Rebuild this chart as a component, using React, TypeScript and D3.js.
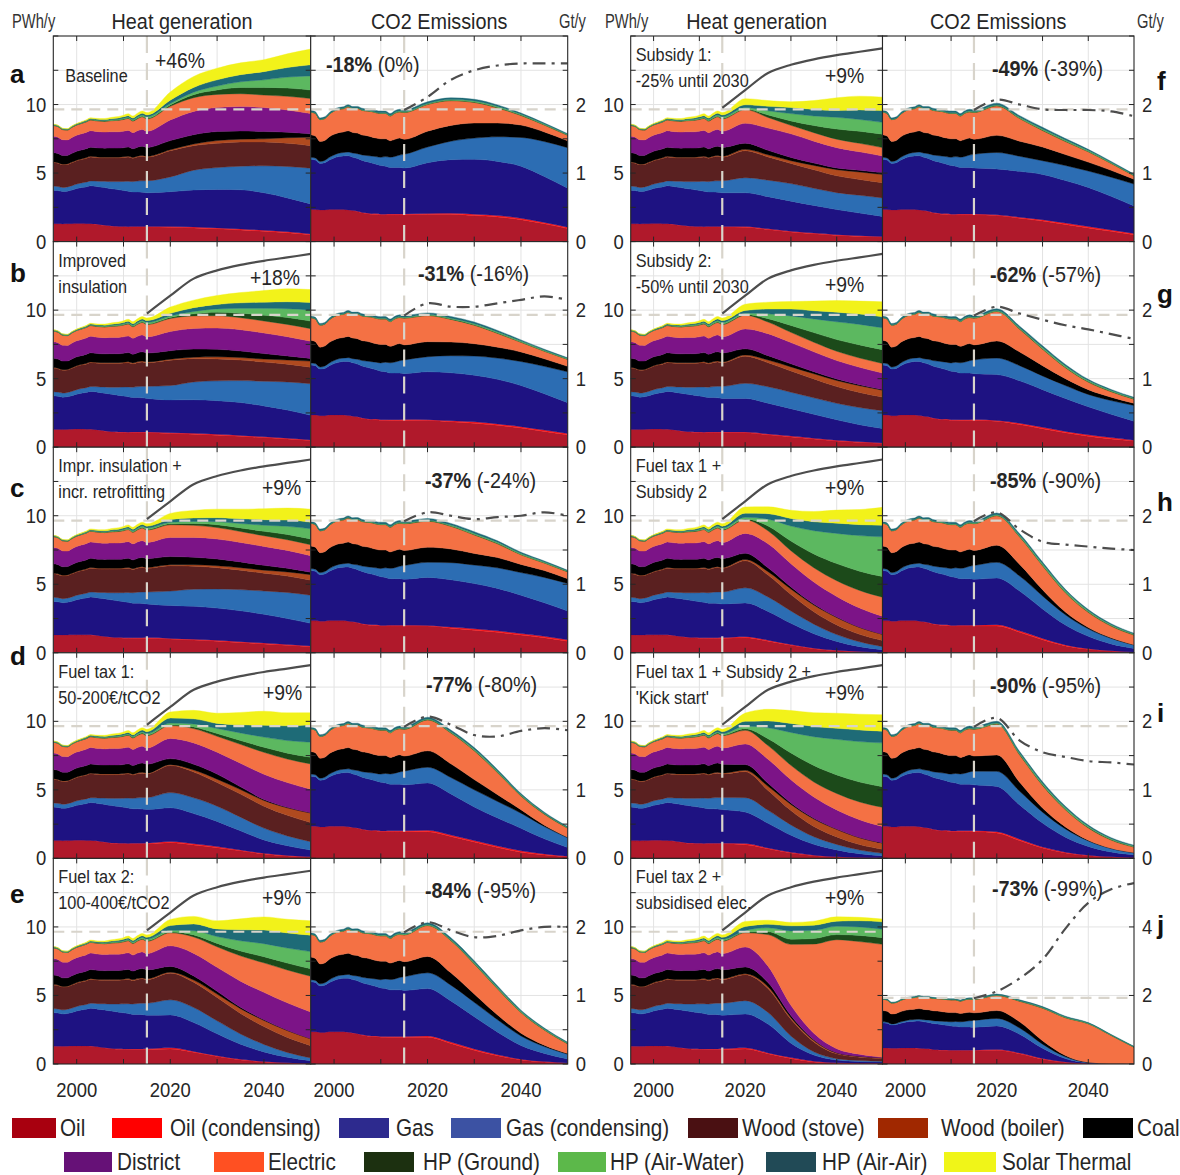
import React from "react";
import * as d3 from "d3";

// ---------------- DATA ----------------
const HIST_YEARS = d3.range(1995, 2016);
const PROJ_YEARS = [2020, 2025, 2030, 2035, 2040, 2045, 2050];
const LINE_YEARS = [2015, 2020, 2025, 2030, 2035, 2040, 2045, 2050];

const TECH_KEYS = ["oil", "oilC", "gas", "gasC", "woodS", "woodB", "coal", "district", "elec", "hpG", "hpAW", "hpAA", "solar"];
const TECH_LABELS = ["Oil", "Oil (condensing)", "Gas", "Gas (condensing)", "Wood (stove)", "Wood (boiler)", "Coal", "District", "Electric", "HP (Ground)", "HP (Air-Water)", "HP (Air-Air)", "Solar Thermal"];
const CO2_KEYS = ["oil", "oilC", "gas", "gasC", "coal", "elec", "hpG", "hpAW", "hpAA"];

const SCENARIO_IDS = ["a", "b", "c", "d", "e", "f", "g", "h", "i", "j"];
const SCENARIO_TEXT = [
  ["Baseline"],
  ["Improved", "insulation"],
  ["Impr. insulation +", "incr. retrofitting"],
  ["Fuel tax 1:", "50-200€/tCO2"],
  ["Fuel tax 2:", "100-400€/tCO2"],
  ["Subsidy 1:", "-25% until 2030"],
  ["Subsidy 2:", "-50% until 2030"],
  ["Fuel tax 1 +", "Subsidy 2"],
  ["Fuel tax 1 + Subsidy 2 +", "'Kick start'"],
  ["Fuel tax 2 +", "subsidised elec."],
];
const HEAT_CHANGE = ["+46%", "+18%", "+9%", "+9%", "+9%", "+9%", "+9%", "+9%", "+9%", "+9%"];
const CO2_CHANGE = ["-18%", "-31%", "-37%", "-77%", "-84%", "-49%", "-62%", "-85%", "-90%", "-73%"];
const CO2_CHANGE_REF = ["(0%)", "(-16%)", "(-24%)", "(-80%)", "(-95%)", "(-39%)", "(-57%)", "(-90%)", "(-95%)", "(-99%)"];

// heat generation history 1995-2015 (PWh/y)
const H_OIL = [1.30, 1.30, 1.29, 1.30, 1.31, 1.32, 1.32, 1.31, 1.30, 1.27, 1.22, 1.17, 1.13, 1.10, 1.08, 1.07, 1.06, 1.06, 1.06, 1.06, 1.06];
const H_OILC = [0, 0, 0, 0, 0, 0, 0, 0, 0.01, 0.01, 0.01, 0.02, 0.02, 0.02, 0.03, 0.03, 0.03, 0.04, 0.04, 0.04, 0.05];
const H_GAS = [2.45, 2.42, 2.36, 2.38, 2.45, 2.55, 2.62, 2.68, 2.76, 2.76, 2.75, 2.75, 2.73, 2.71, 2.67, 2.63, 2.59, 2.52, 2.52, 2.50, 2.45];
const H_GASC = [0.30, 0.30, 0.30, 0.31, 0.32, 0.33, 0.34, 0.35, 0.36, 0.38, 0.42, 0.46, 0.50, 0.55, 0.60, 0.66, 0.72, 0.76, 0.80, 0.84, 0.88];
const H_WOODS = [1.72, 1.70, 1.66, 1.64, 1.68, 1.70, 1.71, 1.72, 1.74, 1.72, 1.71, 1.71, 1.73, 1.73, 1.73, 1.75, 1.77, 1.70, 1.75, 1.78, 1.72];
const H_WOODB = [0.04, 0.04, 0.04, 0.04, 0.04, 0.04, 0.04, 0.05, 0.05, 0.05, 0.05, 0.05, 0.05, 0.05, 0.05, 0.05, 0.06, 0.06, 0.06, 0.06, 0.06];
const H_COAL = [0.68, 0.67, 0.63, 0.62, 0.64, 0.65, 0.65, 0.66, 0.67, 0.66, 0.66, 0.65, 0.66, 0.66, 0.66, 0.66, 0.67, 0.64, 0.66, 0.68, 0.65];
const H_DISTRICT = [1.20, 1.19, 1.15, 1.13, 1.16, 1.17, 1.18, 1.19, 1.20, 1.19, 1.19, 1.18, 1.19, 1.19, 1.19, 1.20, 1.21, 1.17, 1.20, 1.22, 1.18];
const H_ELEC = [0.78, 0.77, 0.74, 0.72, 0.74, 0.75, 0.76, 0.77, 0.78, 0.78, 0.78, 0.78, 0.80, 0.82, 0.84, 0.86, 0.88, 0.84, 0.88, 0.92, 0.90];
const H_HPG = [0.01, 0.01, 0.01, 0.01, 0.01, 0.01, 0.01, 0.01, 0.02, 0.02, 0.02, 0.02, 0.02, 0.03, 0.03, 0.03, 0.03, 0.04, 0.04, 0.04, 0.05];
const H_HPAW = [0.02, 0.02, 0.02, 0.02, 0.02, 0.02, 0.02, 0.03, 0.03, 0.03, 0.03, 0.04, 0.04, 0.05, 0.05, 0.06, 0.06, 0.07, 0.08, 0.09, 0.10];
const H_HPAA = [0.05, 0.05, 0.05, 0.05, 0.05, 0.05, 0.06, 0.06, 0.06, 0.07, 0.07, 0.07, 0.08, 0.08, 0.09, 0.10, 0.11, 0.11, 0.12, 0.13, 0.14];
const H_SOLAR = [0.02, 0.02, 0.02, 0.02, 0.03, 0.03, 0.04, 0.05, 0.06, 0.06, 0.07, 0.08, 0.09, 0.10, 0.11, 0.12, 0.14, 0.15, 0.16, 0.17, 0.18];

// heat generation projections 2020..2050, one row per scenario a..j
const P_OIL = [
  [1.05, 1.00, 0.93, 0.85, 0.76, 0.65, 0.50], [1.0, 0.95, 0.88, 0.8, 0.7, 0.6, 0.48], [1.0, 0.93, 0.85, 0.75, 0.65, 0.55, 0.45],
  [1.15, 0.98, 0.78, 0.55, 0.33, 0.18, 0.08], [1.1, 0.85, 0.55, 0.3, 0.15, 0.07, 0.03], [1.05, 0.88, 0.7, 0.57, 0.45, 0.38, 0.33],
  [1.05, 0.9, 0.75, 0.6, 0.45, 0.35, 0.28], [1.1, 0.85, 0.55, 0.3, 0.15, 0.08, 0.04], [1.0, 0.7, 0.4, 0.2, 0.1, 0.05, 0.03],
  [1.1, 0.75, 0.4, 0.15, 0.06, 0.04, 0.03]];
const P_OILC = [
  [0.05, 0.06, 0.07, 0.07, 0.07, 0.07, 0.06], [0.05, 0.06, 0.06, 0.06, 0.06, 0.06, 0.05], [0.05, 0.06, 0.06, 0.06, 0.06, 0.05, 0.05],
  [0.08, 0.09, 0.08, 0.06, 0.04, 0.04, 0.04], [0.08, 0.07, 0.05, 0.04, 0.03, 0.02, 0.01], [0.05, 0.05, 0.05, 0.05, 0.05, 0.05, 0.04],
  [0.05, 0.06, 0.06, 0.05, 0.05, 0.04, 0.03], [0.08, 0.07, 0.05, 0.04, 0.03, 0.02, 0.01], [0.08, 0.06, 0.04, 0.03, 0.02, 0.01, 0.01],
  [0.08, 0.06, 0.07, 0.05, 0.03, 0.02, 0.02]];
const P_GAS = [
  [2.54, 2.70, 2.81, 2.86, 2.73, 2.47, 2.19], [2.4, 2.45, 2.45, 2.4, 2.25, 2.05, 1.8], [2.4, 2.4, 2.35, 2.25, 2.1, 1.9, 1.65],
  [2.46, 2.2, 1.84, 1.4, 0.98, 0.7, 0.49], [2.4, 2.1, 1.6, 1.1, 0.7, 0.4, 0.2], [2.46, 2.35, 2.2, 2.02, 1.84, 1.65, 1.47],
  [2.46, 2.25, 2.0, 1.75, 1.5, 1.25, 1.05], [2.46, 2.1, 1.55, 1.05, 0.65, 0.35, 0.18], [2.3, 1.8, 1.25, 0.8, 0.5, 0.28, 0.15],
  [2.46, 2.1, 1.05, 0.45, 0.2, 0.12, 0.1]];
const P_GASC = [
  [1.08, 1.45, 1.59, 1.72, 1.97, 2.29, 2.61], [1.05, 1.3, 1.45, 1.6, 1.8, 2.05, 2.3], [1.05, 1.25, 1.4, 1.55, 1.7, 1.9, 2.05],
  [1.11, 1.15, 1.11, 1.0, 0.86, 0.72, 0.61], [1.1, 1.1, 0.95, 0.75, 0.55, 0.35, 0.2], [1.1, 1.2, 1.28, 1.25, 1.23, 1.3, 1.35],
  [1.1, 1.2, 1.2, 1.2, 1.2, 1.25, 1.3], [1.1, 1.05, 0.9, 0.7, 0.5, 0.35, 0.22], [1.05, 0.95, 0.75, 0.55, 0.4, 0.27, 0.18],
  [0.98, 0.85, 0.52, 0.24, 0.1, 0.07, 0.05]];
const P_WOODS = [
  [1.91, 1.79, 1.77, 1.77, 1.74, 1.70, 1.64], [1.85, 1.7, 1.6, 1.5, 1.4, 1.3, 1.2], [1.85, 1.68, 1.55, 1.42, 1.3, 1.2, 1.1],
  [1.97, 1.88, 1.72, 1.68, 1.6, 1.5, 1.4], [1.95, 1.85, 1.7, 1.5, 1.3, 1.1, 0.9], [1.97, 1.7, 1.47, 1.35, 1.23, 1.15, 1.1],
  [1.97, 1.75, 1.55, 1.38, 1.22, 1.1, 1.0], [1.97, 1.6, 1.2, 0.9, 0.7, 0.55, 0.45], [1.9, 1.45, 1.05, 0.75, 0.55, 0.4, 0.3],
  [1.9, 1.75, 1.22, 0.72, 0.35, 0.25, 0.2]];
const P_WOODB = [
  [0.07, 0.12, 0.20, 0.20, 0.23, 0.40, 0.62], [0.07, 0.1, 0.15, 0.18, 0.22, 0.3, 0.45], [0.07, 0.1, 0.14, 0.18, 0.22, 0.3, 0.4],
  [0.07, 0.15, 0.25, 0.33, 0.42, 0.55, 0.69], [0.07, 0.15, 0.25, 0.35, 0.45, 0.5, 0.5], [0.1, 0.15, 0.2, 0.32, 0.45, 0.55, 0.61],
  [0.1, 0.2, 0.3, 0.38, 0.45, 0.5, 0.5], [0.1, 0.25, 0.4, 0.5, 0.55, 0.5, 0.45], [0.1, 0.3, 0.45, 0.55, 0.55, 0.5, 0.45],
  [0.06, 0.13, 0.12, 0.1, 0.06, 0.05, 0.05]];
const P_COAL = [
  [0.67, 0.68, 0.66, 0.60, 0.53, 0.40, 0.24], [0.62, 0.6, 0.55, 0.48, 0.4, 0.3, 0.2], [0.6, 0.55, 0.5, 0.42, 0.35, 0.27, 0.18],
  [0.44, 0.42, 0.37, 0.2, 0.07, 0.04, 0.02], [0.42, 0.3, 0.2, 0.1, 0.05, 0.02, 0.01], [0.45, 0.33, 0.24, 0.17, 0.12, 0.12, 0.12],
  [0.45, 0.32, 0.22, 0.15, 0.1, 0.07, 0.05], [0.45, 0.28, 0.15, 0.07, 0.03, 0.02, 0.01], [0.42, 0.22, 0.1, 0.05, 0.02, 0.01, 0.01],
  [0.5, 0.3, 0.15, 0.06, 0.02, 0.01, 0.0]];
const P_DISTRICT = [
  [1.50, 1.70, 1.75, 1.78, 1.75, 1.62, 1.48], [1.4, 1.5, 1.55, 1.55, 1.5, 1.4, 1.25], [1.4, 1.45, 1.45, 1.42, 1.38, 1.3, 1.2],
  [1.47, 1.55, 1.6, 1.72, 1.84, 1.8, 1.72], [1.5, 1.65, 1.75, 1.9, 2.0, 2.0, 1.95], [1.45, 1.62, 1.72, 1.6, 1.48, 1.35, 1.23],
  [1.45, 1.6, 1.55, 1.45, 1.35, 1.27, 1.2], [1.45, 1.75, 1.7, 1.6, 1.5, 1.4, 1.3], [1.5, 1.75, 1.7, 1.55, 1.4, 1.3, 1.2],
  [1.45, 1.2, 0.75, 0.48, 0.3, 0.15, 0.05]];
const P_ELEC = [
  [1.00, 1.00, 0.96, 0.94, 0.91, 1.00, 1.10], [0.95, 0.92, 0.9, 0.88, 0.88, 0.9, 0.92], [0.92, 0.88, 0.84, 0.8, 0.78, 0.78, 0.8],
  [0.94, 1.05, 1.16, 1.38, 1.6, 1.72, 1.84], [0.95, 1.2, 1.5, 1.85, 2.15, 2.4, 2.6], [1.0, 0.78, 0.62, 0.62, 0.62, 0.62, 0.61],
  [1.0, 0.85, 0.75, 0.7, 0.68, 0.68, 0.7], [1.0, 0.95, 0.95, 1.05, 1.15, 1.28, 1.4], [1.0, 1.0, 1.05, 1.1, 1.2, 1.3, 1.4],
  [1.04, 2.3, 4.45, 6.5, 7.95, 8.22, 8.23]];
const P_HPG = [
  [0.10, 0.22, 0.32, 0.45, 0.56, 0.60, 0.62], [0.08, 0.15, 0.25, 0.33, 0.42, 0.5, 0.55], [0.08, 0.13, 0.2, 0.26, 0.32, 0.38, 0.42],
  [0.06, 0.12, 0.2, 0.28, 0.37, 0.43, 0.49], [0.06, 0.15, 0.25, 0.35, 0.45, 0.5, 0.55], [0.05, 0.18, 0.32, 0.52, 0.74, 0.88, 0.98],
  [0.05, 0.25, 0.5, 0.7, 0.85, 0.95, 1.0], [0.06, 0.35, 0.7, 1.0, 1.25, 1.4, 1.5], [0.1, 0.5, 0.9, 1.2, 1.35, 1.45, 1.5],
  [0.06, 0.2, 0.37, 0.4, 0.37, 0.45, 0.49]];
const P_HPAW = [
  [0.10, 0.18, 0.29, 0.42, 0.55, 0.80, 1.03], [0.1, 0.17, 0.25, 0.35, 0.5, 0.65, 0.8], [0.1, 0.15, 0.22, 0.32, 0.45, 0.6, 0.75],
  [0.12, 0.22, 0.37, 0.55, 0.74, 0.92, 1.1], [0.12, 0.3, 0.5, 0.75, 0.95, 1.1, 1.25], [0.1, 0.3, 0.54, 0.7, 0.86, 0.86, 0.86],
  [0.1, 0.35, 0.7, 1.0, 1.3, 1.5, 1.6], [0.12, 0.5, 1.1, 1.7, 2.2, 2.6, 2.9], [0.2, 0.8, 1.5, 2.1, 2.6, 2.95, 3.2],
  [0.1, 0.3, 0.61, 0.6, 0.61, 0.62, 0.61]];
const P_HPAA = [
  [0.25, 0.35, 0.45, 0.52, 0.60, 0.70, 0.81], [0.2, 0.28, 0.33, 0.4, 0.45, 0.5, 0.55], [0.2, 0.26, 0.3, 0.35, 0.4, 0.45, 0.48],
  [0.37, 0.37, 0.37, 0.6, 0.86, 1.07, 1.27], [0.35, 0.5, 0.55, 0.8, 1.0, 1.1, 1.2], [0.2, 0.33, 0.44, 0.47, 0.5, 0.7, 0.86],
  [0.2, 0.35, 0.5, 0.6, 0.7, 0.75, 0.8], [0.3, 0.4, 0.55, 0.65, 0.75, 0.8, 0.85], [0.35, 0.5, 0.65, 0.75, 0.8, 0.85, 0.85],
  [0.3, 0.25, 0.37, 0.37, 0.37, 0.45, 0.54]];
const P_SOLAR = [
  [0.60, 0.80, 0.85, 0.86, 0.87, 1.00, 1.15], [0.45, 0.55, 0.65, 0.75, 0.85, 0.95, 0.95], [0.45, 0.55, 0.62, 0.7, 0.8, 0.88, 0.95],
  [0.44, 0.62, 0.74, 0.9, 1.03, 0.95, 0.88], [0.45, 0.55, 0.6, 0.8, 0.95, 1.0, 1.05], [0.45, 0.42, 0.42, 0.65, 0.92, 1.0, 0.98],
  [0.45, 0.5, 0.55, 0.7, 0.85, 0.95, 1.1], [0.45, 0.5, 0.6, 0.75, 0.95, 1.1, 1.3], [0.6, 0.85, 0.95, 1.0, 1.1, 1.15, 1.2],
  [0.37, 0.3, 0.25, 0.3, 0.32, 0.25, 0.2]];

// CO2 emissions history 1995-2015 (Gt/y)
const CH_OIL = [0.47, 0.47, 0.46, 0.46, 0.47, 0.47, 0.47, 0.47, 0.46, 0.45, 0.44, 0.42, 0.41, 0.40, 0.40, 0.39, 0.39, 0.39, 0.39, 0.39, 0.39];
const CH_OILC = [0, 0, 0, 0, 0, 0, 0, 0, 0.002, 0.002, 0.003, 0.005, 0.006, 0.008, 0.01, 0.01, 0.01, 0.012, 0.012, 0.012, 0.013];
const CH_GAS = [0.73, 0.72, 0.68, 0.69, 0.72, 0.75, 0.77, 0.78, 0.79, 0.78, 0.77, 0.76, 0.75, 0.74, 0.72, 0.71, 0.70, 0.68, 0.68, 0.68, 0.67];
const CH_GASC = [0.03, 0.03, 0.03, 0.035, 0.04, 0.045, 0.05, 0.05, 0.055, 0.06, 0.07, 0.08, 0.09, 0.10, 0.11, 0.12, 0.14, 0.15, 0.16, 0.18, 0.20];
const CH_COAL = [0.33, 0.32, 0.29, 0.29, 0.30, 0.30, 0.30, 0.30, 0.31, 0.30, 0.30, 0.29, 0.29, 0.28, 0.27, 0.27, 0.26, 0.24, 0.25, 0.25, 0.22];
const CH_ELEC = [0.33, 0.33, 0.32, 0.32, 0.33, 0.34, 0.34, 0.34, 0.35, 0.35, 0.36, 0.36, 0.36, 0.37, 0.37, 0.37, 0.37, 0.36, 0.38, 0.38, 0.39];
const CH_HPG = [0.001, 0.001, 0.001, 0.001, 0.001, 0.001, 0.001, 0.001, 0.002, 0.002, 0.002, 0.002, 0.002, 0.002, 0.002, 0.003, 0.003, 0.003, 0.003, 0.003, 0.004];
const CH_HPAW = [0.004, 0.004, 0.004, 0.004, 0.004, 0.005, 0.005, 0.005, 0.005, 0.005, 0.006, 0.006, 0.006, 0.007, 0.007, 0.007, 0.008, 0.008, 0.009, 0.009, 0.01];
const CH_HPAA = [0.02, 0.02, 0.02, 0.02, 0.02, 0.02, 0.021, 0.021, 0.022, 0.022, 0.022, 0.023, 0.023, 0.024, 0.024, 0.025, 0.025, 0.026, 0.026, 0.027, 0.027];

// CO2 projections 2020..2050, rows a..j
const CP_OIL = [
  [0.40, 0.40, 0.38, 0.36, 0.32, 0.26, 0.19], [0.39, 0.37, 0.35, 0.32, 0.28, 0.23, 0.18], [0.39, 0.36, 0.33, 0.3, 0.26, 0.22, 0.17],
  [0.39, 0.32, 0.24, 0.16, 0.09, 0.05, 0.02], [0.39, 0.3, 0.2, 0.12, 0.06, 0.03, 0.01], [0.38, 0.34, 0.3, 0.25, 0.2, 0.15, 0.1],
  [0.38, 0.33, 0.27, 0.21, 0.16, 0.12, 0.09], [0.39, 0.3, 0.19, 0.1, 0.05, 0.025, 0.01], [0.37, 0.26, 0.15, 0.08, 0.04, 0.02, 0.01],
  [0.4, 0.3, 0.14, 0.05, 0.01, 0.003, 0.002]];
const CP_OILC = [
  [0.01, 0.015, 0.02, 0.02, 0.02, 0.02, 0.02], [0.01, 0.015, 0.02, 0.02, 0.02, 0.02, 0.02], [0.01, 0.015, 0.02, 0.02, 0.02, 0.02, 0.02],
  [0.02, 0.02, 0.02, 0.02, 0.02, 0.015, 0.01], [0.02, 0.02, 0.02, 0.015, 0.01, 0.005, 0.003], [0.01, 0.015, 0.02, 0.02, 0.02, 0.02, 0.02],
  [0.01, 0.02, 0.02, 0.02, 0.02, 0.02, 0.01], [0.02, 0.02, 0.02, 0.015, 0.01, 0.005, 0.003], [0.02, 0.02, 0.015, 0.01, 0.005, 0.003, 0.002],
  [0.02, 0.02, 0.02, 0.01, 0.002, 0.001, 0.001]];
const CP_GAS = [
  [0.74, 0.78, 0.80, 0.79, 0.76, 0.67, 0.57], [0.7, 0.7, 0.68, 0.65, 0.6, 0.53, 0.45], [0.7, 0.69, 0.66, 0.62, 0.56, 0.49, 0.42],
  [0.69, 0.6, 0.49, 0.41, 0.33, 0.22, 0.13], [0.69, 0.6, 0.47, 0.33, 0.2, 0.12, 0.06], [0.67, 0.67, 0.66, 0.62, 0.57, 0.49, 0.4],
  [0.67, 0.62, 0.55, 0.48, 0.41, 0.34, 0.28], [0.68, 0.58, 0.43, 0.29, 0.18, 0.1, 0.05], [0.66, 0.5, 0.35, 0.22, 0.13, 0.07, 0.04],
  [0.69, 0.55, 0.3, 0.1, 0.02, 0.005, 0.003]];
const CP_GASC = [
  [0.23, 0.27, 0.31, 0.36, 0.42, 0.51, 0.59], [0.22, 0.25, 0.28, 0.31, 0.35, 0.4, 0.45], [0.22, 0.25, 0.27, 0.3, 0.33, 0.37, 0.4],
  [0.23, 0.24, 0.25, 0.24, 0.22, 0.18, 0.14], [0.23, 0.23, 0.21, 0.18, 0.14, 0.1, 0.07], [0.24, 0.22, 0.2, 0.22, 0.24, 0.28, 0.32],
  [0.24, 0.22, 0.2, 0.19, 0.18, 0.2, 0.23], [0.23, 0.22, 0.19, 0.15, 0.11, 0.08, 0.05], [0.22, 0.2, 0.16, 0.12, 0.08, 0.05, 0.03],
  [0.22, 0.18, 0.12, 0.05, 0.01, 0.003, 0.002]];
const CP_COAL = [
  [0.23, 0.23, 0.22, 0.20, 0.18, 0.14, 0.10], [0.22, 0.2, 0.18, 0.16, 0.14, 0.11, 0.08], [0.22, 0.2, 0.17, 0.15, 0.12, 0.1, 0.07],
  [0.24, 0.2, 0.15, 0.1, 0.05, 0.02, 0.01], [0.24, 0.18, 0.12, 0.07, 0.04, 0.02, 0.01], [0.25, 0.22, 0.2, 0.16, 0.13, 0.1, 0.07],
  [0.25, 0.2, 0.15, 0.1, 0.07, 0.05, 0.03], [0.25, 0.17, 0.09, 0.04, 0.02, 0.01, 0.005], [0.24, 0.13, 0.06, 0.03, 0.01, 0.005, 0.003],
  [0.23, 0.18, 0.1, 0.04, 0.01, 0.0, 0.0]];
const CP_ELEC = [
  [0.39, 0.36, 0.30, 0.22, 0.14, 0.10, 0.08], [0.38, 0.33, 0.27, 0.2, 0.14, 0.11, 0.1], [0.38, 0.33, 0.27, 0.2, 0.14, 0.11, 0.1],
  [0.45, 0.45, 0.42, 0.32, 0.2, 0.16, 0.13], [0.45, 0.47, 0.44, 0.38, 0.3, 0.22, 0.14], [0.43, 0.33, 0.24, 0.19, 0.15, 0.1, 0.05],
  [0.43, 0.33, 0.24, 0.16, 0.11, 0.08, 0.06], [0.43, 0.4, 0.35, 0.28, 0.22, 0.17, 0.14], [0.45, 0.4, 0.33, 0.25, 0.18, 0.12, 0.08],
  [0.44, 0.6, 0.95, 1.1, 1.12, 0.82, 0.48]];
const CP_HPG = [
  [0.005, 0.006, 0.007, 0.007, 0.006, 0.005, 0.005], [0.005, 0.006, 0.007, 0.007, 0.006, 0.005, 0.005], [0.005, 0.006, 0.007, 0.007, 0.006, 0.005, 0.005],
  [0.005, 0.006, 0.007, 0.007, 0.006, 0.005, 0.005], [0.005, 0.006, 0.007, 0.007, 0.006, 0.005, 0.005], [0.005, 0.006, 0.007, 0.007, 0.006, 0.005, 0.005],
  [0.005, 0.007, 0.008, 0.008, 0.007, 0.006, 0.006], [0.005, 0.008, 0.009, 0.009, 0.008, 0.007, 0.006], [0.005, 0.008, 0.009, 0.009, 0.008, 0.007, 0.006],
  [0.005, 0.006, 0.007, 0.007, 0.006, 0.005, 0.005]];
const CP_HPAW = [
  [0.01, 0.012, 0.015, 0.015, 0.012, 0.01, 0.008], [0.01, 0.012, 0.015, 0.015, 0.012, 0.01, 0.008], [0.01, 0.012, 0.015, 0.015, 0.012, 0.01, 0.008],
  [0.01, 0.012, 0.015, 0.015, 0.012, 0.01, 0.008], [0.01, 0.012, 0.015, 0.015, 0.012, 0.01, 0.008], [0.01, 0.012, 0.015, 0.015, 0.012, 0.01, 0.008],
  [0.01, 0.014, 0.018, 0.018, 0.015, 0.012, 0.01], [0.01, 0.015, 0.02, 0.02, 0.016, 0.013, 0.01], [0.01, 0.016, 0.02, 0.02, 0.016, 0.013, 0.01],
  [0.01, 0.012, 0.015, 0.015, 0.012, 0.01, 0.008]];
const CP_HPAA = [
  [0.025, 0.025, 0.025, 0.022, 0.018, 0.015, 0.012], [0.025, 0.025, 0.025, 0.022, 0.018, 0.015, 0.012], [0.025, 0.025, 0.025, 0.022, 0.018, 0.015, 0.012],
  [0.025, 0.025, 0.025, 0.022, 0.018, 0.015, 0.012], [0.025, 0.025, 0.025, 0.022, 0.018, 0.015, 0.012], [0.025, 0.025, 0.025, 0.022, 0.018, 0.015, 0.012],
  [0.025, 0.025, 0.025, 0.022, 0.018, 0.015, 0.012], [0.025, 0.025, 0.025, 0.022, 0.018, 0.015, 0.012], [0.025, 0.025, 0.025, 0.022, 0.018, 0.015, 0.012],
  [0.025, 0.025, 0.025, 0.022, 0.018, 0.015, 0.015]];

// reference lines
const BASELINE_TOTAL = [9.75, 11.05, 12.3, 12.9, 13.3, 13.6, 13.85, 14.1]; // 2015..2050, PWh/y
const CO2_REFERENCE = [
  [1.92, 2.11, 2.36, 2.5, 2.57, 2.6, 2.6, 2.6], [1.92, 2.1, 2.05, 2.05, 2.1, 2.15, 2.2, 2.15],
  [1.92, 2.05, 2.0, 1.95, 1.98, 2.0, 2.05, 2.0], [1.92, 2.07, 1.95, 1.8, 1.78, 1.86, 1.9, 1.87],
  [1.92, 2.07, 1.95, 1.85, 1.87, 1.95, 2.0, 2.0], [1.92, 2.07, 2.0, 1.93, 1.92, 1.92, 1.9, 1.83],
  [1.92, 2.05, 1.95, 1.86, 1.78, 1.72, 1.65, 1.58], [1.92, 2.05, 1.8, 1.62, 1.58, 1.55, 1.52, 1.5],
  [1.92, 2.05, 1.72, 1.55, 1.48, 1.42, 1.4, 1.37], [1.92, 2.12, 2.5, 3.05, 3.95, 4.7, 5.1, 5.28]];
const HEAT_LEVEL_2015 = 9.65;
const CO2_LEVEL_2015 = 1.93;

// ---------------- TABLES BUILT FROM DATA ----------------
const HEAT_HIST: Record<string, number[]> = {
  oil: H_OIL, oilC: H_OILC, gas: H_GAS, gasC: H_GASC, woodS: H_WOODS, woodB: H_WOODB, coal: H_COAL,
  district: H_DISTRICT, elec: H_ELEC, hpG: H_HPG, hpAW: H_HPAW, hpAA: H_HPAA, solar: H_SOLAR,
};
const HEAT_PROJ: Record<string, number[][]> = {
  oil: P_OIL, oilC: P_OILC, gas: P_GAS, gasC: P_GASC, woodS: P_WOODS, woodB: P_WOODB, coal: P_COAL,
  district: P_DISTRICT, elec: P_ELEC, hpG: P_HPG, hpAW: P_HPAW, hpAA: P_HPAA, solar: P_SOLAR,
};
const CO2_HIST: Record<string, number[]> = {
  oil: CH_OIL, oilC: CH_OILC, gas: CH_GAS, gasC: CH_GASC, coal: CH_COAL, elec: CH_ELEC, hpG: CH_HPG, hpAW: CH_HPAW, hpAA: CH_HPAA,
};
const CO2_PROJ: Record<string, number[][]> = {
  oil: CP_OIL, oilC: CP_OILC, gas: CP_GAS, gasC: CP_GASC, coal: CP_COAL, elec: CP_ELEC, hpG: CP_HPG, hpAW: CP_HPAW, hpAA: CP_HPAA,
};

// ---------------- STYLE / LAYOUT ----------------
const COLORS: Record<string, string> = {
  oil: "#b0192b", oilC: "#ff1a1a", gas: "#1e1282", gasC: "#2c6db3", woodS: "#5a2020", woodB: "#b04a1f",
  coal: "#000000", district: "#7c1487", elec: "#f47144", hpG: "#1c4a1a", hpAW: "#5cb860", hpAA: "#1e6b77", solar: "#f2f21a",
};
const LEGEND_COLORS: Record<string, string> = {
  oil: "#a8000f", oilC: "#ff0000", gas: "#2d2a8e", gasC: "#3c52a3", woodS: "#4a1012", woodB: "#a02800",
  coal: "#000000", district: "#661177", elec: "#ff5022", hpG: "#1c3010", hpAW: "#5cb84a", hpAA: "#214a56", solar: "#f0f518",
};
// legend layout: [row, swatchX, swatchW, labelX]
const LEGEND_LAYOUT: [number, number, number, number][] = [
  [0, 12, 44, 60], [0, 112, 50, 170], [0, 339, 50, 396], [0, 451, 50, 506], [0, 688, 50, 742], [0, 878, 50, 941], [0, 1083, 50, 1137],
  [1, 64, 48, 117], [1, 214, 50, 268], [1, 364, 50, 423], [1, 558, 48, 610], [1, 766, 50, 822], [1, 944, 52, 1002],
];
const COL_GEOM = [
  { hx0: 53.3, hx1: 310.7, cx1: 567.7, pwhX: 12, gtX: 559 },
  { hx0: 630.7, hx1: 882.5, cx1: 1134, pwhX: 605, gtX: 1137 },
];
const ROW_TOP = 36;
const ROW_H = 205.6;
const LETTER_POS: [number, number][] = [
  [10, 83], [10, 282], [10, 497], [10, 665], [10, 903], [1157, 90], [1157, 303], [1157, 511], [1157, 722], [1157, 934],
];
const HEAT_PCT_POS: [number, number][] = [
  [155, 68], [250, 285], [262, 495], [263, 700], [262, 905], [825, 83], [825, 292], [825, 495], [825, 700], [825, 905],
];
const CO2_PCT_POS: [number, number][] = [
  [326, 72], [418, 281], [425, 488], [426, 692], [425, 898], [992, 76], [990, 282], [990, 488], [990, 693], [992, 896],
];

const FONT = "'Liberation Sans', Arial, sans-serif";
const INK = "#262626";

function T(props: { x: number; y: number; size: number; anchor?: string; weight?: string; fill?: string; sx?: number; children: any }) {
  const { x, y, size, anchor = "start", weight = "normal", fill = INK, sx = 0.88, children } = props;
  return (
    <text transform={`translate(${x},${y}) scale(${sx},1)`} fontSize={size} textAnchor={anchor as any} fontWeight={weight} fill={fill} fontFamily={FONT}>
      {children}
    </text>
  );
}

function buildRows(s: number, keys: string[], hist: Record<string, number[]>, proj: Record<string, number[][]>) {
  const years = HIST_YEARS.concat(PROJ_YEARS);
  return years.map((yr, i) => {
    const r: any = { year: yr };
    keys.forEach((k) => {
      r[k] = i < HIST_YEARS.length ? hist[k][i] : proj[k][s][i - HIST_YEARS.length];
    });
    return r;
  });
}

function Plot(props: {
  id: string; x0: number; x1: number; top: number; bottom: number; ymax: number; rows: any[]; keys: string[];
  gridStep: number; tickStep: number; level: number; overlay?: { values: number[]; dash: string };
}) {
  const { id, x0, x1, top, bottom, ymax, rows, keys, gridStep, tickStep, level, overlay } = props;
  const x = d3.scaleLinear().domain([1995, 2050]).range([x0, x1]);
  const y = d3.scaleLinear().domain([0, ymax]).range([bottom, top]);
  const series = d3.stack<any>().keys(keys)(rows);
  const area = d3.area<any>()
    .x((d) => x(d.data.year))
    .y0((d) => y(d[0]))
    .y1((d) => y(d[1]))
    .curve(d3.curveMonotoneX);
  const gridY = d3.range(gridStep, ymax - 1e-9, gridStep);
  const ticksY = d3.range(0, ymax + 1e-9, tickStep);
  const decades = [2000, 2010, 2020, 2030, 2040];
  const line = d3.line<number>()
    .x((_, i) => x(LINE_YEARS[i]))
    .y((v) => y(v))
    .curve(d3.curveCatmullRom);
  return (
    <g>
      <defs>
        <clipPath id={id}>
          <rect x={x0} y={top} width={x1 - x0} height={bottom - top} />
        </clipPath>
      </defs>
      <rect x={x0} y={top} width={x1 - x0} height={bottom - top} fill="#ffffff" />
      <g stroke="#e3e3e3" strokeWidth={1}>
        {gridY.map((g) => <line key={"gy" + g} x1={x0} x2={x1} y1={y(g)} y2={y(g)} />)}
        {decades.map((d) => <line key={"gx" + d} x1={x(d)} x2={x(d)} y1={top} y2={bottom} />)}
      </g>
      <g clipPath={`url(#${id})`}>
        {series.map((layer) => (
          <path key={layer.key} d={area(layer) || ""} fill={COLORS[layer.key]} stroke={COLORS[layer.key]} strokeWidth={0.4} />
        ))}
        <line x1={x0} x2={x1} y1={y(level)} y2={y(level)} stroke="#d8d4cb" strokeWidth={2.2} strokeDasharray="11 7" />
        <line x1={x(2015)} x2={x(2015)} y1={top} y2={bottom} stroke="#d8d4cb" strokeWidth={2.2} strokeDasharray="17 10" />
        {overlay && (
          <path d={line(overlay.values) || ""} fill="none" stroke="#4d4d4d" strokeWidth={2.2} strokeDasharray={overlay.dash} />
        )}
      </g>
      <rect x={x0} y={top} width={x1 - x0} height={bottom - top} fill="none" stroke={INK} strokeWidth={1.1} />
      <g stroke={INK} strokeWidth={1}>
        {ticksY.map((t) => (
          <g key={"t" + t}>
            <line x1={x0} x2={x0 + 5} y1={y(t)} y2={y(t)} />
            <line x1={x1} x2={x1 - 5} y1={y(t)} y2={y(t)} />
          </g>
        ))}
        {decades.map((d) => (
          <g key={"tx" + d}>
            <line x1={x(d)} x2={x(d)} y1={bottom} y2={bottom - 5} />
            <line x1={x(d)} x2={x(d)} y1={top} y2={top + 5} />
          </g>
        ))}
      </g>
    </g>
  );
}

export default function App() {
  const panels: any[] = [];
  for (let s = 0; s < 10; s++) {
    const col = s < 5 ? 0 : 1;
    const row = s % 5;
    const g = COL_GEOM[col];
    const top = ROW_TOP + row * ROW_H;
    const bottom = top + ROW_H;
    const heatRows = buildRows(s, TECH_KEYS, HEAT_HIST, HEAT_PROJ);
    const co2Rows = buildRows(s, CO2_KEYS, CO2_HIST, CO2_PROJ);
    const co2Max = s === 9 ? 6 : 3;
    const co2Step = s === 9 ? 2 : 0.5;
    const yHeat = d3.scaleLinear().domain([0, 15]).range([bottom, top]);
    const yCo2 = d3.scaleLinear().domain([0, co2Max]).range([bottom, top]);
    const xHeat = d3.scaleLinear().domain([1995, 2050]).range([g.hx0, g.hx1]);
    const xCo2 = d3.scaleLinear().domain([1995, 2050]).range([g.hx1, g.cx1]);
    const lines = SCENARIO_TEXT[s];
    panels.push(
      <g key={s}>
        <Plot id={"ch" + s} x0={g.hx0} x1={g.hx1} top={top} bottom={bottom} ymax={15} rows={heatRows} keys={TECH_KEYS}
          gridStep={2.5} tickStep={2.5} level={HEAT_LEVEL_2015}
          overlay={s === 0 ? undefined : { values: BASELINE_TOTAL, dash: "none" }} />
        <Plot id={"cc" + s} x0={g.hx1} x1={g.cx1} top={top} bottom={bottom} ymax={co2Max} rows={co2Rows} keys={CO2_KEYS}
          gridStep={co2Step} tickStep={co2Step} level={CO2_LEVEL_2015}
          overlay={{ values: CO2_REFERENCE[s], dash: "13 6 3 6" }} />
        {[0, 5, 10].map((v) => (
          <T key={"hl" + v} x={g.hx0 - 7} y={yHeat(v) + 7} size={21} anchor="end">{String(v)}</T>
        ))}
        {(s === 9 ? [0, 2, 4] : [0, 1, 2]).map((v) => (
          <T key={"cl" + v} x={g.cx1 + 8} y={yCo2(v) + 7} size={21}>{String(v)}</T>
        ))}
        {row === 4 && [2000, 2020, 2040].map((yr) => (
          <g key={"xl" + yr}>
            <T x={xHeat(yr)} y={bottom + 33} size={21} anchor="middle">{String(yr)}</T>
            <T x={xCo2(yr)} y={bottom + 33} size={21} anchor="middle">{String(yr)}</T>
          </g>
        ))}
        {s === 0 ? (
          <T x={g.hx0 + 12} y={top + 46} size={18.5}>{lines[0]}</T>
        ) : (
          lines.map((t, i) => <T key={"sl" + i} x={g.hx0 + 5} y={top + 25 + i * 26} size={18.5}>{t}</T>)
        )}
        <T x={HEAT_PCT_POS[s][0]} y={HEAT_PCT_POS[s][1]} size={22}>{HEAT_CHANGE[s]}</T>
        <text transform={`translate(${CO2_PCT_POS[s][0]},${CO2_PCT_POS[s][1]}) scale(0.88,1)`} fontSize={22.5} fill={INK} fontFamily={FONT}>
          <tspan fontWeight="bold">{CO2_CHANGE[s]}</tspan>
          <tspan>{"\u00a0" + CO2_CHANGE_REF[s]}</tspan>
        </text>
        <text x={LETTER_POS[s][0]} y={LETTER_POS[s][1]} fontSize={26} fontWeight="bold" fill="#111" fontFamily={FONT}>{SCENARIO_IDS[s]}</text>
      </g>
    );
  }

  return (
    <svg width={1180} height={1175} viewBox="0 0 1180 1175" style={{ position: "absolute", left: 0, top: 0, background: "#fff" }} fontFamily={FONT}>
      <rect x={0} y={0} width={1180} height={1175} fill="#ffffff" />
      {panels}
      {COL_GEOM.map((g, c) => (
        <g key={"hdr" + c}>
          <T x={g.pwhX} y={28} size={21} sx={0.7} fill="#333">PWh/y</T>
          <T x={(g.hx0 + g.hx1) / 2} y={29} size={22.5} anchor="middle">Heat generation</T>
          <T x={(g.hx1 + g.cx1) / 2 - (c === 0 ? 0 : 10)} y={29} size={22.5} anchor="middle">CO2 Emissions</T>
          <T x={g.gtX} y={28} size={21} sx={0.7} fill="#333">Gt/y</T>
        </g>
      ))}
      {TECH_KEYS.map((k, i) => {
        const [row, sx, sw, lx] = LEGEND_LAYOUT[i];
        const yTop = row === 0 ? 1118 : 1152;
        return (
          <g key={"lg" + k}>
            <rect x={sx} y={yTop} width={sw} height={20} fill={LEGEND_COLORS[k]} />
            <T x={lx} y={yTop + 18} size={23.5}>{TECH_LABELS[i]}</T>
          </g>
        );
      })}
    </svg>
  );
}
